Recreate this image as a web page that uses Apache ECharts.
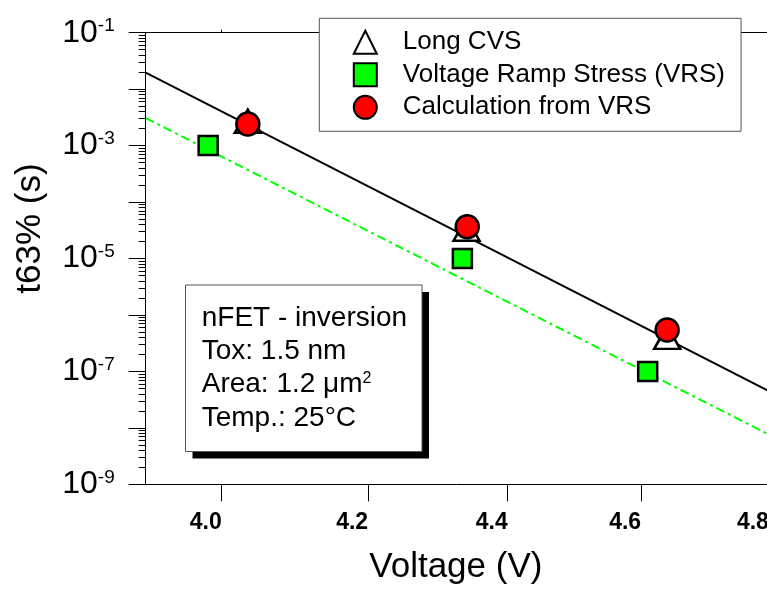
<!DOCTYPE html>
<html>
<head>
<meta charset="utf-8">
<script src="https://cdn.jsdelivr.net/npm/echarts@6/dist/echarts.min.js"></script>
<style>
html,body{margin:0;padding:0;background:#fff;}
#chart{width:767px;height:594px;}
</style>
</head>
<body>
<div id="chart"></div>
<script>
// ---- data ----
const cvsV   = [4.035, 4.340, 4.640];
const cvsT   = [2.7e-3, 3.3e-5, 4.0e-7];
const vrsV   = [3.982, 4.334, 4.610];
const vrsT   = [1.0e-3, 1.0e-5, 1.0e-7];
const calcV  = [4.035, 4.341, 4.640];
const calcT  = [2.42e-3, 3.66e-5, 5.4e-7];
const fitV        = [3.9, 4.8];
const fitBlackT   = [1.96e-2, 4.5e-8];
const fitGreenT   = [3.08e-3, 7.6e-9];
const xTickLabels = [4.0, 4.2, 4.4, 4.6, 4.8];
const yDecades    = [-9, -8, -7, -6, -5, -4, -3, -2, -1];
const yLabelDecades = [-9, -7, -5, -3, -1];
const seriesNames = ['Long CVS', 'Voltage Ramp Stress (VRS)', 'Calculation from VRS'];
const infoLines = ['nFET - inversion', 'Tox: 1.5 nm', 'Area: 1.2 \u03bcm', 'Temp.: 25\u00b0C'];

// ---- helpers ----
const lg = Math.log10;
const pairs = (xs, ys) => xs.map((x, i) => [lg(x), lg(ys[i])]);
const minorTicks = [];
yDecades.slice(0, -1).forEach(n => { for (let k = 2; k <= 9; k++) minorTicks.push(n + lg(k)); });

const FONT = 'Liberation Sans, Arial, sans-serif';
const xMin = lg(3.9), xMax = lg(4.85);

const chart = echarts.init(document.getElementById('chart'), null, {renderer: 'canvas'});
const option = {
  backgroundColor: '#fff',
  animation: false,
  grid: {left: 145.7, top: 32.7, width: 654.3, height: 451.6, containLabel: false, outerBoundsMode: 'none'},
  xAxis: [
    {
      type: 'value', position: 'bottom', min: xMin, max: xMax,
      axisLine: {show: true, lineStyle: {color: '#000', width: 1}},
      axisTick: {show: true, inside: false, length: 17, customValues: xTickLabels.map(lg), lineStyle: {color: '#000', width: 1}},
      axisLabel: {show: true, customValues: xTickLabels.map(lg), formatter: v => Math.pow(10, v).toFixed(1),
        align: 'right', margin: 27, fontSize: 23, fontWeight: 'bold', fontFamily: FONT, color: '#000'},
      splitLine: {show: false},
      name: 'Voltage (V)', nameLocation: 'middle', nameGap: 66,
      nameTextStyle: {fontSize: 35, fontFamily: FONT, color: '#000', padding: [0, 34, 0, 0]}
    },
    {
      type: 'value', position: 'top', min: xMin, max: xMax,
      axisLine: {show: true, lineStyle: {color: '#000', width: 1}},
      axisTick: {show: true, inside: false, length: 3, customValues: xTickLabels.map(lg), lineStyle: {color: '#000', width: 1}},
      axisLabel: {show: false},
      splitLine: {show: false}
    }
  ],
  yAxis: [
    {
      type: 'value', position: 'left', min: -9, max: -1,
      axisLine: {show: true, lineStyle: {color: '#000', width: 1}},
      axisTick: {show: true, inside: false, length: 17, customValues: yDecades, lineStyle: {color: '#000', width: 1}},
      axisLabel: {show: true, customValues: yLabelDecades, margin: 31,
        formatter: v => '{b|10}{s|' + Math.round(v) + '}',
        rich: {
          b: {fontSize: 32, fontFamily: FONT, color: '#000'},
          s: {fontSize: 19, fontFamily: FONT, color: '#000', verticalAlign: 'top'}
        }
      },
      splitLine: {show: false},
      name: 't63% (s)', nameLocation: 'middle', nameGap: 98,
      nameTextStyle: {fontSize: 35, fontFamily: FONT, color: '#000', padding: [0, 0, 0, 60]}
    },
    {
      type: 'value', position: 'left', min: -9, max: -1,
      axisLine: {show: false},
      axisTick: {show: true, inside: false, length: 7, customValues: minorTicks, lineStyle: {color: '#000', width: 1}},
      axisLabel: {show: false},
      splitLine: {show: false}
    }
  ],
  legend: {
    orient: 'vertical', left: 319.3, top: 18.3,
    padding: [11, 16, 11, 33.5], itemGap: 6.5, itemWidth: 23, itemHeight: 23,
    backgroundColor: '#fff', borderColor: '#555', borderWidth: 1, borderRadius: 0,
    selectedMode: false,
    textStyle: {fontSize: 26, fontFamily: FONT, color: '#000', padding: [0, 0, 0, 21]},
    data: seriesNames
  },
  series: [
    {type: 'line', data: pairs(fitV, fitBlackT), symbol: 'none', silent: true, z: 2,
      lineStyle: {color: '#000', width: 2}},
    {type: 'line', data: pairs(fitV, fitGreenT), symbol: 'none', silent: true, z: 2,
      lineStyle: {color: '#00ff00', width: 2, type: [9, 4, 3, 4]}},
    {name: seriesNames[0], type: 'scatter', data: pairs(cvsV, cvsT), symbol: 'triangle', symbolSize: [26, 23], z: 3,
      itemStyle: {color: '#fff', borderColor: '#000', borderWidth: 2.5, opacity: 1}},
    {name: seriesNames[1], type: 'scatter', data: pairs(vrsV, vrsT), symbol: 'rect', symbolSize: 19, z: 4,
      itemStyle: {color: '#00ff00', borderColor: '#000', borderWidth: 2.5, opacity: 1}},
    {name: seriesNames[2], type: 'scatter', data: pairs(calcV, calcT), symbol: 'circle', symbolSize: 23, z: 5,
      itemStyle: {color: '#ff0000', borderColor: '#000', borderWidth: 2.5, opacity: 1}}
  ],
  graphic: [
    {type: 'rect', z: 100, shape: {x: 192.5, y: 292, width: 236.5, height: 166.5}, style: {fill: '#000'}},
    {type: 'rect', z: 101, shape: {x: 185.5, y: 285, width: 236.5, height: 166.5}, style: {fill: '#fff', stroke: '#555', lineWidth: 1}},
    ...infoLines.map((t, i) => ({
      type: 'text', z: 102, x: 201.7, y: 318 + i * 33.3,
      style: {
        text: i === 2 ? '{a|' + t + '}{s|2}' : t,
        fontSize: 28, fontFamily: FONT, fill: '#000', verticalAlign: 'middle', align: 'left',
        rich: {a: {fontSize: 28, fontFamily: FONT, fill: '#000'}, s: {fontSize: 16, fontFamily: FONT, fill: '#000', verticalAlign: 'top'}}
      }
    }))
  ]
};
chart.setOption(option);
</script>
</body>
</html>
